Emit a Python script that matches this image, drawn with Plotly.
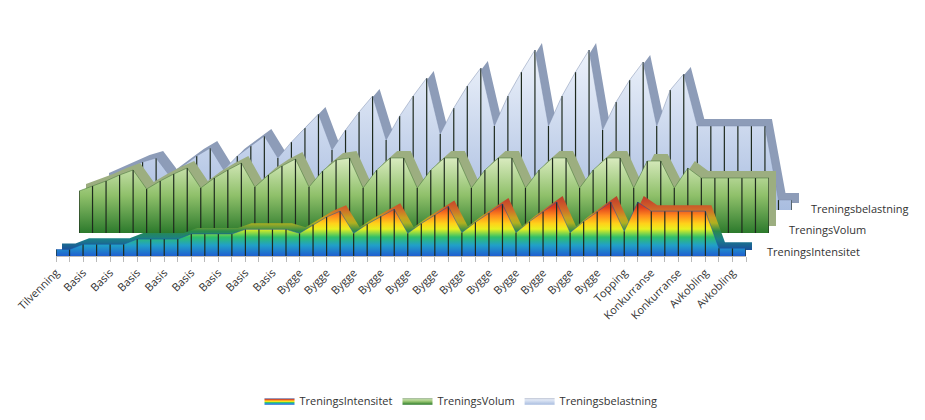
import plotly.graph_objects as go

W, H = 925, 420
SHIFT = 7  # page offset in px

weeks = list(range(1, 53))
phase_labels = ["Tilvenning"] + ["Basis"] * 8 + ["Bygge"] * 12 + ["Topping"] + \
               ["Konkurranse"] * 2 + ["Avkobling"] * 2

intensitet = [1, 1,
              1.8, 1.8, 1.8, 1.8, 2.6, 2.6, 2.6, 2.6,
              3.4, 3.4, 3.4, 3.4, 4.1, 4.1, 4.1, 4.1,
              3.5, 4.8, 6.0, 6.9, 3.5, 4.9, 6.1, 7.2, 3.5, 5.0, 6.3, 7.6,
              3.6, 5.2, 6.6, 8.0, 3.6, 5.3, 6.8, 8.3, 3.6, 5.3, 6.8, 8.3,
              3.8, 8.3, 6.9, 6.9, 6.9, 6.9, 6.9, 1.2, 1.2, 1.2]
volum = [4.2, 4.7, 5.2, 5.8, 6.3,
         4.4, 5.2, 5.9, 6.5, 4.5, 5.5, 6.3, 7.0,
         4.6, 5.8, 6.7, 7.4, 4.6, 6.2, 7.3, 7.5,
         4.5, 6.3, 7.5, 7.5, 4.5, 6.3, 7.5, 7.5, 4.5, 6.3, 7.5, 7.5,
         4.5, 6.3, 7.5, 7.5, 4.5, 6.3, 7.5, 7.5,
         4.5, 7.2, 7.2, 4.5, 6.5, 5.5, 5.5, 5.5, 5.5, 5.5, 5.5]
belastning = [15, 18, 21, 24, 26,
              17, 22, 27, 31, 20, 27, 32, 37,
              26, 34, 41, 48, 30, 40, 49, 57,
              35, 47, 57, 66, 38, 51, 62, 71,
              42, 57, 69, 80, 42, 57, 69, 80,
              40, 54, 65, 74, 42, 60, 68,
              42, 42, 42, 42, 42, 42, 5, 5]

ticktext = [phase_labels[(w - 1) // 2] if w % 2 == 1 else "" for w in weeks]


def xd(x0, x1):
    return [(x0 - SHIFT) / W, (x1 - SHIFT) / W]


def yd(base, top):
    return [1 - base / H, 1 - top / H]


int_scale = [[0, "#1f5fd0"], [0.2, "#21a0c8"], [0.35, "#2fbf6a"], [0.5, "#e8f020"],
             [0.6, "#ffd21a"], [0.75, "#ff8a1e"], [0.9, "#e0401e"], [1, "#c8301e"]]
int_top = [[0, "#1a4f9a"], [0.2, "#1a7f8a"], [0.35, "#2a8a4a"], [0.5, "#b0b020"],
           [0.6, "#c8a020"], [0.75, "#d06a28"], [0.9, "#c84a2a"], [1, "#b8402a"]]

# (name, values, yrange, x0, x1, base_px, top_px, front gradient, top gradient, edge colour, depth)
layers = [
    ("Treningsbelastning", belastning, 96, 101, 791, 202, 10,
     [[0, "#a9bde0"], [1, "#eef3fb"]], [[0, "#8d9cb8"], [1, "#8d9cb8"]], "#7f8fae", 7),
    ("TreningsVolum", volum, 10, 78, 768, 225, 125,
     [[0, "#2c7a2c"], [0.5, "#8fc06a"], [1, "#d9ebbf"]],
     [[0, "#9cae80"], [1, "#9cae80"]], "#3f6e33", 7),
    ("TreningsIntensitet", intensitet, 10, 55, 745, 248, 183,
     int_scale, int_top, "#1b50a8", 6),
]

fig = go.Figure()
layout = dict(width=W, height=H, margin=dict(l=0, r=0, t=0, b=0, autoexpand=False),
              paper_bgcolor="white", plot_bgcolor="rgba(0,0,0,0)",
              showlegend=True,
              legend=dict(orientation="h", x=(460 - SHIFT) / W, xanchor="center", y=0.065,
                          yanchor="middle", font=dict(family="Open Sans", size=11, color="#333")))

n = 0
for name, vals, ymax, x0, x1, base, top, grad, tgrad, edge, d in layers:
    for part in ("top", "front"):
        n += 1
        sx = "" if n == 1 else str(n)
        if part == "top":
            dom_x, dom_y = xd(x0 + d, x1 + d), yd(base - d, top - d)
        else:
            dom_x, dom_y = xd(x0, x1), yd(base, top)
        layout["xaxis" + sx] = dict(domain=dom_x, range=[1, 52], visible=False,
                                    anchor="y" + sx, fixedrange=True, automargin=False)
        layout["yaxis" + sx] = dict(domain=dom_y, range=[0, ymax], visible=False,
                                    anchor="x" + sx, fixedrange=True, automargin=False)
        if part == "top":
            fig.add_trace(go.Scatter(x=weeks, y=vals, xaxis="x" + sx, yaxis="y" + sx,
                                     mode="lines", line=dict(width=0), fill="tozeroy",
                                     fillgradient=dict(type="vertical", colorscale=tgrad,
                                                       start=0, stop=max(vals)),
                                     showlegend=False, hoverinfo="skip"))
        else:
            fig.add_trace(go.Scatter(
                x=weeks, y=vals, xaxis="x" + sx, yaxis="y" + sx, name=name,
                mode="lines", line=dict(color=edge, width=0.5), fill="tozeroy",
                fillgradient=dict(type="vertical", colorscale=grad, start=0, stop=max(vals)),
                error_y=dict(type="data", symmetric=False, array=[0] * len(vals),
                             arrayminus=vals, width=0, thickness=1.2, color="#1e2a1e"),
                legendrank={"TreningsIntensitet": 1, "TreningsVolum": 2,
                            "Treningsbelastning": 3}[name]))
        if name == "TreningsIntensitet" and part == "front":
            layout["xaxis" + sx].update(visible=True, showline=True, linecolor="#bbbbbb",
                                        ticks="outside", ticklen=5, tickcolor="#bbbbbb",
                                        tickvals=weeks, ticktext=ticktext, tickangle=-45,
                                        showgrid=False, zeroline=False,
                                        tickfont=dict(family="Open Sans", size=11, color="#333"))

fig.update_layout(**layout)

for txt, x, y in [("Treningsbelastning", 808, 200), ("TreningsVolum", 786, 221),
                  ("TreningsIntensitet", 764, 243)]:
    fig.add_annotation(text=txt, x=(x - SHIFT) / W, y=1 - y / H, xref="paper", yref="paper",
                       xanchor="left", showarrow=False,
                       font=dict(family="Open Sans", size=11, color="#333"))

fig.write_html("out.html")
